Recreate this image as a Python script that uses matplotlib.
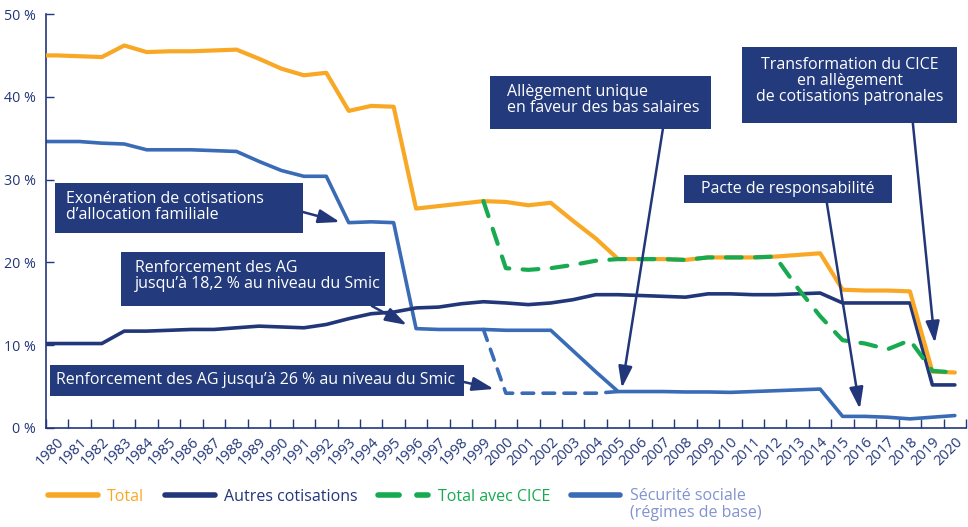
import matplotlib
matplotlib.use("Agg")
import matplotlib.pyplot as plt
import matplotlib.transforms as mtransforms
import numpy as np
from matplotlib.patches import Rectangle

plt.rcParams["font.family"] = ["Open Sans", "DejaVu Sans"]

years = list(range(1980, 2021))

total = [45.0, 44.9, 44.8, 46.2, 45.4, 45.5, 45.5, 45.6, 45.7, 44.6,
         43.4, 42.6, 42.9, 38.3, 38.9, 38.8, 26.5, 26.8, 27.1, 27.4,
         27.3, 26.9, 27.2, 25.0, 22.9, 20.4, 20.4, 20.4, 20.3, 20.6,
         20.6, 20.6, 20.7, 20.9, 21.1, 16.7, 16.6, 16.6, 16.5, 6.8, 6.7]

autres = [10.2, 10.2, 10.2, 11.7, 11.7, 11.8, 11.9, 11.9, 12.1, 12.3,
          12.2, 12.1, 12.5, 13.2, 13.8, 14.0, 14.5, 14.6, 15.0, 15.25,
          15.1, 14.9, 15.1, 15.5, 16.1, 16.1, 16.0, 15.9, 15.8, 16.2,
          16.2, 16.1, 16.1, 16.2, 16.3, 15.1, 15.1, 15.1, 15.1, 5.2, 5.2]

# CICE line only differs from the total from 1999 on
total_cice = [np.nan] * 19 + [27.4,
              19.3, 19.1, 19.3, 19.7, 20.2, 20.4, 20.4, 20.4, 20.3, 20.6,
              20.6, 20.6, 20.7, 16.9, 13.5, 10.6, 10.2, 9.5, 10.6, 6.9, 6.7]

secu = [34.6, 34.6, 34.4, 34.3, 33.6, 33.6, 33.6, 33.5, 33.4, 32.2,
        31.1, 30.4, 30.4, 24.8, 24.9, 24.8, 12.0, 11.9, 11.9, 11.9,
        11.8, 11.8, 11.8, 9.3, 6.8, 4.4, 4.4, 4.4, 4.35, 4.35,
        4.3, 4.4, 4.5, 4.6, 4.7, 1.4, 1.4, 1.3, 1.1, 1.3, 1.5]

# variant with the 26 % AG reinforcement (dashed, 1999-2005)
secu_ag = [np.nan] * 19 + [11.9, 4.2, 4.2, 4.2, 4.2, 4.2, 4.4] + [np.nan] * 15

ORANGE = "#F9A826"
NAVY = "#22367A"
GREEN = "#17AA50"
BLUE = "#3A6BB6"
BOX = "#233A7C"
LIGHT = "#8293CF"

x = np.arange(len(years))
# lines start at the left axis edge, like the original
xe = np.r_[-0.5, x]

fig = plt.figure(figsize=(9.68, 5.27), dpi=100)
ax = fig.add_axes([0.0472, 0.1879, 0.9508, 0.7855])

ax.plot(xe, np.r_[secu[0], secu], color=BLUE, lw=2.6, zorder=2,
        solid_capstyle="round", label="Sécurité sociale\n(régimes de base)")
ax.plot(x, secu_ag, color=BLUE, lw=2.6, zorder=2, ls=(0, (3.2, 2.6)),
        dash_capstyle="round")
ax.plot(xe, np.r_[autres[0], autres], color=NAVY, lw=2.6, zorder=3,
        solid_capstyle="round", label="Autres cotisations")
ax.plot(xe, np.r_[total[0], total], color=ORANGE, lw=3.0, zorder=4,
        solid_capstyle="round", label="Total")
ax.plot(x, total_cice, color=GREEN, lw=3.0, zorder=5, ls=(0, (3.8, 3.2)),
        dash_capstyle="round", label="Total avec CICE")

ax.set_xlim(-0.5, len(years) - 0.5)
ax.set_ylim(0, 50)
ax.set_yticks([0, 10, 20, 30, 40, 50])
ax.set_yticklabels([f"{v} %" for v in range(0, 51, 10)])
ax.set_xticks(x)
ax.set_xticklabels([str(y) for y in years], rotation=45, ha="right",
                   rotation_mode="anchor")
ax.set_xticks(np.arange(-0.5, len(years)), minor=True)
ax.tick_params(axis="x", which="major", length=0, pad=5, labelsize=10.5,
               labelcolor=NAVY)
ax.tick_params(axis="x", which="minor", direction="in", length=6.5,
               width=1.0, color=NAVY)
ax.tick_params(axis="y", direction="in", length=6, width=1.0, color=NAVY,
               labelsize=10.3, labelcolor=NAVY, pad=7)
for side in ("top", "right"):
    ax.spines[side].set_visible(False)
for side in ("left", "bottom"):
    ax.spines[side].set_color(NAVY)
    ax.spines[side].set_linewidth(1.2)


def px(xp, yp):
    # picture position -> data position
    return (xp - 57) / 22.45, (428 - yp) / 8.28


def note(box, text, txt_at, ha, start, tip):
    (x0, y0), (x1, y1) = px(*box[0]), px(*box[1])
    ax.add_patch(Rectangle((x0, y1), x1 - x0, y0 - y1, facecolor=BOX,
                           edgecolor="none", zorder=6, clip_on=False))
    tx, ty = px(*txt_at)
    ax.text(tx, ty, text, color="white", fontsize=11.5, ha=ha, va="center",
            linespacing=1.0, zorder=7)
    ax.annotate("", xy=px(*tip), xytext=px(*start), zorder=8,
                arrowprops=dict(arrowstyle="-|>,head_length=1.3,head_width=0.42",
                                color=NAVY, lw=1.8, shrinkA=0, shrinkB=0,
                                mutation_scale=10))


note(((55, 183), (303, 233)),
     "Exonération de cotisations\nd’allocation familiale",
     (66, 207), "left", (303, 212), (340, 222))
note(((121, 252), (385, 306)),
     "Renforcement des AG\njusqu’à 18,2 % au niveau du Smic",
     (135, 276), "left", (372, 306), (407, 325))
note(((50, 365), (464, 396)),
     "Renforcement des AG jusqu’à 26 % au niveau du Smic",
     (56, 380), "left", (464, 382), (494, 389))
note(((490, 76), (711, 129)),
     "Allègement unique\nen faveur des bas salaires",
     (507, 100), "left", (663, 129), (622, 388))
note(((684, 175), (892, 203)),
     "Pacte de responsabilité",
     (788, 189), "center", (827, 203), (860, 409))
note(((742, 47), (957, 123)),
     "Transformation du CICE\nen allègement\nde cotisations patronales",
     (850, 81), "center", (913, 123), (935, 343))

h, l = ax.get_legend_handles_labels()
order = [2, 1, 3, 0]
leg = fig.legend([h[i] for i in order], [l[i] for i in order],
                 loc="upper left", bbox_to_anchor=(0.043, 0.105), ncol=4,
                 frameon=False, fontsize=11.5, handlelength=3.1,
                 handletextpad=0.6, columnspacing=1.3, borderaxespad=0,
                 labelspacing=0.2, labelcolor=[ORANGE, NAVY, GREEN, LIGHT])
for line in leg.get_lines():
    line.set_linewidth(4)
# two-line label: keep its first line level with the legend line
secu_txt = leg.get_texts()[3]
secu_txt.set_linespacing(1.15)
secu_txt.set_transform(secu_txt.get_transform() + mtransforms.ScaledTranslation(
    0, -0.095, fig.dpi_scale_trans))

fig.savefig("out.png", dpi=100)
